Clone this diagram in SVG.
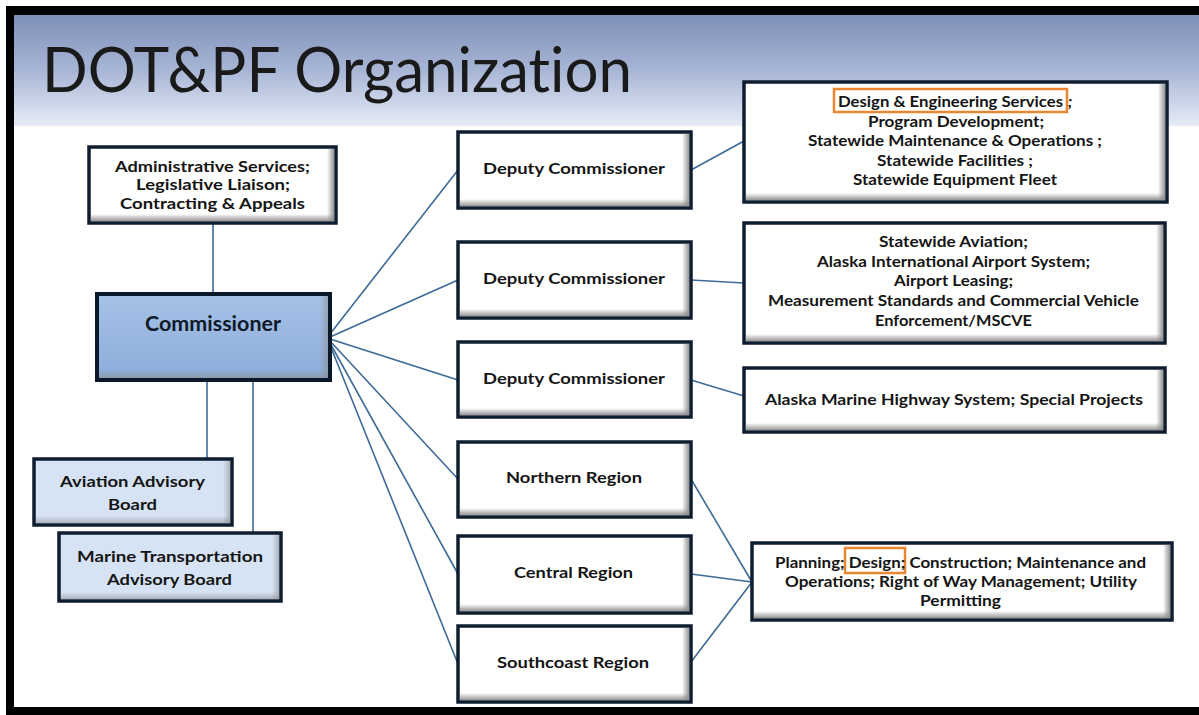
<svg xmlns="http://www.w3.org/2000/svg" width="1199" height="715" viewBox="0 0 1199 715">
<defs>
<linearGradient id="hdr" x1="0" y1="0" x2="0" y2="1">
<stop offset="0" stop-color="#7d8eb7"/>
<stop offset="0.5" stop-color="#a8b6d6"/>
<stop offset="1" stop-color="#e6ecf6"/>
</linearGradient>
<linearGradient id="gB" x1="0" y1="0" x2="0" y2="1">
<stop offset="0" stop-color="#8a8a8a" stop-opacity="0"/>
<stop offset="1" stop-color="#8a8a8a" stop-opacity="0.9"/>
</linearGradient>
<linearGradient id="gR" x1="0" y1="0" x2="1" y2="0">
<stop offset="0" stop-color="#8a8a8a" stop-opacity="0"/>
<stop offset="1" stop-color="#8a8a8a" stop-opacity="0.9"/>
</linearGradient>
<linearGradient id="comm" x1="0" y1="0" x2="0" y2="1">
<stop offset="0" stop-color="#a6c2e8"/>
<stop offset="1" stop-color="#8cacd8"/>
</linearGradient>
<style>
.box{fill:#ffffff;stroke:#0f1d30;stroke-width:3.5}
.lbox{fill:#d6e3f4;stroke:#0f1d30;stroke-width:3.5}
.cbox{fill:url(#comm);stroke:#0b1829;stroke-width:4}
.sb{fill:url(#gB)}
.sr{fill:url(#gR)}
.t{font-family:Lato,"Open Sans","Liberation Sans",sans-serif;font-weight:bold;font-size:16px;fill:#151515}
.title{font-family:Lato,"Open Sans","Liberation Sans",sans-serif;font-size:62px;fill:#1a1a1a;font-variant-ligatures:none}
.hl{fill:none;stroke:#ea8530;stroke-width:2.5}
.c{stroke:#3d6a96;stroke-width:1.6;fill:none}
</style>
</defs>
<rect x="0" y="0" width="1199" height="715" fill="#ffffff"/>
<rect x="14" y="15" width="1185" height="111" fill="url(#hdr)"/>
<rect x="6" y="6" width="1193" height="9" fill="#000"/>
<rect x="6" y="6" width="8" height="709" fill="#000"/>
<rect x="6" y="707" width="1193" height="8" fill="#000"/>
<text class="title" x="42" y="92" textLength="590" lengthAdjust="spacingAndGlyphs">DOT&amp;PF Organization</text>

<g id="connectors">
<line class="c" x1="213" y1="223" x2="213" y2="294"/>
<line class="c" x1="207" y1="380" x2="207" y2="459"/>
<line class="c" x1="253" y1="380" x2="253" y2="533"/>
<line class="c" x1="330" y1="334" x2="458" y2="170"/>
<line class="c" x1="330" y1="337" x2="458" y2="280"/>
<line class="c" x1="330" y1="339" x2="458" y2="380"/>
<line class="c" x1="330" y1="341" x2="458" y2="479"/>
<line class="c" x1="330" y1="343" x2="458" y2="574"/>
<line class="c" x1="330" y1="345" x2="458" y2="664"/>
<line class="c" x1="691" y1="170" x2="744" y2="141"/>
<line class="c" x1="691" y1="280" x2="744" y2="283"/>
<line class="c" x1="691" y1="380" x2="744" y2="396"/>
<line class="c" x1="691" y1="479" x2="752" y2="582"/>
<line class="c" x1="691" y1="574" x2="752" y2="582"/>
<line class="c" x1="691" y1="662" x2="752" y2="582"/>
</g>

<g id="admin">
<rect class="box" x="89" y="147" width="247" height="76"/>
<rect class="sb" x="91" y="214" width="243" height="7"/>
<rect class="sr" x="327" y="149" width="7" height="72"/>
<text class="t" x="115" y="172" textLength="195" lengthAdjust="spacingAndGlyphs">Administrative Services;</text>
<text class="t" x="136" y="190" textLength="154" lengthAdjust="spacingAndGlyphs">Legislative Liaison;</text>
<text class="t" x="120" y="209" textLength="185" lengthAdjust="spacingAndGlyphs">Contracting &amp; Appeals</text>
</g>

<g id="commissioner">
<rect class="cbox" x="97" y="294" width="233" height="86"/>
<rect class="sb" x="99" y="370" width="229" height="8" opacity="0.6"/>
<rect class="sr" x="320" y="296" width="8" height="82" opacity="0.6"/>
<text class="t" x="145" y="331" textLength="136" lengthAdjust="spacingAndGlyphs" style="font-size:20px;fill:#0f1a28">Commissioner</text>
</g>

<g id="aviation-board">
<rect class="lbox" x="34" y="459" width="198" height="66"/>
<rect class="sb" x="36" y="516" width="194" height="7" opacity="0.6"/>
<rect class="sr" x="223" y="461" width="7" height="62" opacity="0.6"/>
<text class="t" x="60" y="487" textLength="145" lengthAdjust="spacingAndGlyphs">Aviation Advisory</text>
<text class="t" x="108" y="510" textLength="49" lengthAdjust="spacingAndGlyphs">Board</text>
</g>

<g id="marine-board">
<rect class="lbox" x="59" y="533" width="222" height="68"/>
<rect class="sb" x="61" y="592" width="218" height="7" opacity="0.6"/>
<rect class="sr" x="272" y="535" width="7" height="64" opacity="0.6"/>
<text class="t" x="77" y="562" textLength="186" lengthAdjust="spacingAndGlyphs">Marine Transportation</text>
<text class="t" x="107" y="585" textLength="125" lengthAdjust="spacingAndGlyphs">Advisory Board</text>
</g>

<g id="deputy1">
<rect class="box" x="458" y="132" width="233" height="76"/>
<rect class="sb" x="460" y="199" width="229" height="7"/>
<rect class="sr" x="682" y="134" width="7" height="72"/>
<text class="t" x="483" y="174" textLength="182" lengthAdjust="spacingAndGlyphs">Deputy Commissioner</text>
</g>

<g id="deputy2">
<rect class="box" x="458" y="242" width="233" height="76"/>
<rect class="sb" x="460" y="309" width="229" height="7"/>
<rect class="sr" x="682" y="244" width="7" height="72"/>
<text class="t" x="483" y="284" textLength="182" lengthAdjust="spacingAndGlyphs">Deputy Commissioner</text>
</g>

<g id="deputy3">
<rect class="box" x="458" y="342" width="233" height="75"/>
<rect class="sb" x="460" y="408" width="229" height="7"/>
<rect class="sr" x="682" y="344" width="7" height="71"/>
<text class="t" x="483" y="384" textLength="182" lengthAdjust="spacingAndGlyphs">Deputy Commissioner</text>
</g>

<g id="northern">
<rect class="box" x="458" y="442" width="233" height="75"/>
<rect class="sb" x="460" y="508" width="229" height="7"/>
<rect class="sr" x="682" y="444" width="7" height="71"/>
<text class="t" x="506" y="483" textLength="136" lengthAdjust="spacingAndGlyphs">Northern Region</text>
</g>

<g id="central">
<rect class="box" x="458" y="536" width="233" height="77"/>
<rect class="sb" x="460" y="604" width="229" height="7"/>
<rect class="sr" x="682" y="538" width="7" height="73"/>
<text class="t" x="514" y="578" textLength="119" lengthAdjust="spacingAndGlyphs">Central Region</text>
</g>

<g id="southcoast">
<rect class="box" x="458" y="626" width="233" height="76"/>
<rect class="sb" x="460" y="693" width="229" height="7"/>
<rect class="sr" x="682" y="628" width="7" height="72"/>
<text class="t" x="497" y="668" textLength="152" lengthAdjust="spacingAndGlyphs">Southcoast Region</text>
</g>

<g id="design-engineering">
<rect class="box" x="744" y="82" width="423" height="120"/>
<rect class="sb" x="746" y="193" width="419" height="7"/>
<rect class="sr" x="1158" y="84" width="7" height="116"/>
<rect class="hl" x="834" y="89" width="233" height="23"/>
<text class="t" x="838" y="107" textLength="225" lengthAdjust="spacingAndGlyphs">Design &amp; Engineering Services</text>
<text class="t" x="1068" y="107" font-style="italic">;</text>
<text class="t" x="868" y="126.5" textLength="176" lengthAdjust="spacingAndGlyphs">Program Development;</text>
<text class="t" x="808" y="146" textLength="294" lengthAdjust="spacingAndGlyphs">Statewide Maintenance &amp; Operations ;</text>
<text class="t" x="877" y="165.5" textLength="156" lengthAdjust="spacingAndGlyphs">Statewide Facilities ;</text>
<text class="t" x="853" y="185" textLength="204" lengthAdjust="spacingAndGlyphs">Statewide Equipment Fleet</text>
</g>

<g id="aviation-systems">
<rect class="box" x="744" y="223" width="421" height="120"/>
<rect class="sb" x="746" y="334" width="417" height="7"/>
<rect class="sr" x="1156" y="225" width="7" height="116"/>
<text class="t" x="879" y="247" textLength="149" lengthAdjust="spacingAndGlyphs">Statewide Aviation;</text>
<text class="t" x="817" y="267" textLength="273" lengthAdjust="spacingAndGlyphs">Alaska International Airport System;</text>
<text class="t" x="894" y="286" textLength="119" lengthAdjust="spacingAndGlyphs">Airport Leasing;</text>
<text class="t" x="768" y="306" textLength="371" lengthAdjust="spacingAndGlyphs">Measurement Standards and Commercial Vehicle</text>
<text class="t" x="875" y="326" textLength="157" lengthAdjust="spacingAndGlyphs">Enforcement/MSCVE</text>
</g>

<g id="marine-highway">
<rect class="box" x="744" y="368" width="421" height="64"/>
<rect class="sb" x="746" y="423" width="417" height="7"/>
<rect class="sr" x="1156" y="370" width="7" height="60"/>
<text class="t" x="765" y="405" textLength="378" lengthAdjust="spacingAndGlyphs">Alaska Marine Highway System; Special Projects</text>
</g>

<g id="regional-functions">
<rect class="box" x="752" y="543" width="420" height="77"/>
<rect class="sb" x="754" y="611" width="416" height="7"/>
<rect class="sr" x="1163" y="545" width="7" height="73"/>
<rect class="hl" x="845" y="548" width="60" height="25"/>
<text class="t" x="775" y="568" textLength="371" lengthAdjust="spacingAndGlyphs">Planning; Design; Construction; Maintenance and</text>
<text class="t" x="785" y="587" textLength="352" lengthAdjust="spacingAndGlyphs">Operations; Right of Way Management; Utility</text>
<text class="t" x="920" y="606" textLength="81" lengthAdjust="spacingAndGlyphs">Permitting</text>
</g>
</svg>
